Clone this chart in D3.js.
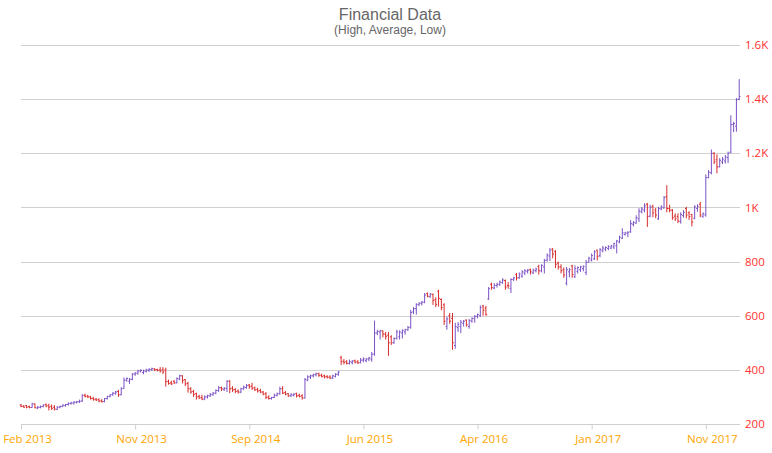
<!DOCTYPE html>
<html>
<head>
<meta charset="utf-8">
<script src="https://cdn.jsdelivr.net/npm/d3@7"></script>
<style>
	body { margin: 0; background: #fff; }
	svg { display: block; }
</style>
</head>
<body>
<div id="container"></div>
<script>
var width = 772, height = 453;
var margin = ({top: 45, right: 32, bottom: 29, left: 21});

// weekly bars, first week starts here
var startDate = '2013-02-15';

var openValues = [270,265,268,264,261,274,259,262,264,272,268,265,262,254,262,265,268,272,275,277,280,282,285,306,303,300,295,292,290,286,
	283,294,302,308,313,320,308,332,362,358,365,384,388,396,390,395,398,401,404,401,400,402,400,358,352,358,352,366,378,364,
	350,330,320,312,302,298,292,300,304,308,314,324,334,328,332,358,332,328,322,318,330,335,344,340,334,328,324,318,312,300,
	294,298,306,312,330,316,312,304,306,312,306,304,296,362,374,378,382,386,380,378,376,374,370,376,384,446,432,430,424,428,
	434,430,426,436,434,440,440,458,536,540,544,532,528,522,500,516,522,536,540,548,558,614,626,640,646,650,682,670,678,660,
	690,660,640,560,600,590,490,556,560,572,584,560,580,590,598,600,636,628,662,716,702,712,716,722,730,712,700,734,752,740,
	746,758,764,770,758,766,782,766,780,806,820,846,838,794,780,770,720,762,784,744,764,770,774,760,798,806,810,842,822,840,
	846,848,850,854,858,872,886,900,904,910,938,942,958,984,990,1012,968,1004,990,958,994,998,1040,996,990,968,966,948,970,996,
	980,974,960,996,1012,966,972,1110,1128,1200,1176,1150,1168,1172,1184,1204,1306,1300,1400];
var highValues = [274,270,270,268,278,276,266,268,272,276,275,272,270,266,268,272,274,280,282,284,285,290,310,312,308,304,300,296,295,292,
	296,304,310,318,322,326,336,372,372,370,388,392,400,402,400,404,406,408,406,404,410,410,408,364,360,362,372,382,380,366,
	356,336,326,316,308,308,306,308,314,318,328,340,338,336,362,362,340,332,328,334,342,348,348,352,338,334,330,322,318,306,
	300,312,316,338,340,322,314,314,314,316,312,310,370,380,382,386,390,390,386,382,380,380,382,388,396,452,440,436,438,436,
	438,436,444,446,444,448,466,582,548,548,546,540,540,528,520,548,546,550,552,562,622,632,646,650,654,684,686,684,682,668,
	696,664,646,596,610,610,574,576,584,584,586,588,594,602,608,638,640,636,706,722,720,722,730,738,734,724,738,744,758,760,
	768,772,772,774,774,778,788,790,810,830,850,850,842,800,790,778,780,776,788,786,782,784,786,806,818,830,842,844,850,858,
	856,860,862,870,880,896,923,910,912,953,950,971,997,1001,1015,1016,1010,1010,998,1002,1008,1042,1082,1010,994,978,978,982,990,1002,
	986,976,1008,1012,1020,982,1122,1138,1214,1204,1196,1182,1186,1194,1206,1340,1316,1404,1474];
var lowValues = [262,260,258,258,260,258,255,258,262,262,250,252,250,252,258,262,264,268,272,272,276,278,282,298,296,290,286,285,280,280,
	280,290,298,304,308,300,306,330,356,348,362,378,382,390,384,390,392,396,396,394,390,385,338,345,344,348,350,362,350,340,
	316,312,300,290,292,288,288,294,300,304,310,318,322,322,318,314,318,314,312,314,326,330,330,326,322,316,314,306,292,290,
	290,296,302,308,310,306,300,300,302,298,298,290,294,358,366,372,376,374,372,368,368,366,366,372,378,418,420,420,420,420,
	424,422,424,428,428,432,430,452,528,512,520,512,452,492,496,512,512,516,530,544,552,606,604,636,638,646,668,666,640,632,
	634,620,566,548,570,474,478,540,536,560,560,552,574,574,590,596,600,600,658,696,698,704,710,718,696,700,684,728,730,736,
	740,750,756,752,754,760,752,760,756,800,802,812,776,770,756,740,712,742,740,740,756,762,764,750,796,800,806,804,816,834,
	838,842,846,846,830,868,883,896,890,906,930,940,946,978,982,928,964,964,960,954,990,996,982,982,954,950,942,940,962,960,
	954,930,956,984,964,962,966,1108,1122,1160,1126,1148,1160,1162,1164,1200,1278,1280,1396];
var closeValues = [265,262,262,261,274,260,262,265,270,266,262,258,255,262,265,270,272,276,278,281,282,284,306,302,300,294,290,288,284,282,
	294,302,308,314,318,308,330,362,368,365,385,388,396,398,396,400,402,404,400,398,396,392,356,350,348,352,368,378,362,348,
	330,318,310,300,296,292,300,304,310,314,324,334,330,332,358,330,326,320,318,330,336,342,338,332,326,322,318,310,298,294,
	298,306,312,330,314,310,304,308,310,304,302,296,364,374,378,382,386,380,376,374,372,370,378,384,392,430,428,424,430,432,
	428,426,436,440,440,444,458,536,542,544,532,524,500,500,516,540,540,545,548,556,612,626,642,646,650,676,672,680,656,642,
	664,630,580,588,580,500,560,568,576,580,566,582,590,598,604,630,620,604,700,704,712,716,724,732,706,710,734,740,740,754,
	762,766,768,762,768,772,766,786,804,824,842,828,790,780,766,750,770,770,752,774,778,780,782,796,812,822,836,818,844,850,
	852,856,858,866,876,890,906,906,908,940,944,962,986,994,1006,966,1000,980,972,996,1002,1036,996,990,962,958,950,974,982,972,
	966,946,1002,1004,972,976,1110,1130,1200,1168,1150,1174,1178,1186,1200,1306,1310,1398,1410];

var yTickValues = [200, 400, 600, 800, 1000, 1200, 1400, 1600];
var xTickDates = ['2013-02-15', '2013-11-29', '2014-09-12', '2015-06-26', '2016-04-08', '2017-01-20', '2017-11-03'];

var titleText = 'Financial Data';
var subtitleText = '(High, Average, Low)';

var upColor = '#7b52c6';
var downColor = '#d92b2b';

var parseDate = d3.timeParse('%Y-%m-%d');
var start = parseDate(startDate);

var bars = closeValues.map(function(c, i) {
	return {
		date: d3.timeDay.offset(start, i * 7),
		open: openValues[i],
		high: highValues[i],
		low: lowValues[i],
		close: c
	};
});

var svg = d3.select('div#container')
	.append('svg')
	.attr('width', width)
	.attr('height', height);

var x = d3.scaleTime()
	.domain([start, parseDate('2018-01-28')])
	.range([margin.left, width - margin.right]);

var y = d3.scaleLinear()
	.domain([200, 1600])
	.range([height - margin.bottom, margin.top]);

// horizontal grid
svg.append('g')
	.selectAll('line')
	.data(yTickValues)
	.join('line')
	.attr('x1', margin.left)
	.attr('x2', width - margin.right)
	.attr('y1', d => Math.round(y(d)) + 0.5)
	.attr('y2', d => Math.round(y(d)) + 0.5)
	.attr('stroke', '#cfcfcf')
	.attr('stroke-width', 1);

// y axis on the right
var yAxis = svg.append('g')
	.attr('transform', 'translate(' + (width - margin.right) + ',0)')
	.call(d3.axisRight(y)
		.tickValues(yTickValues)
		.tickSize(0)
		.tickPadding(5)
		.tickFormat(d => d >= 1000 ? (d / 1000) + 'K' : d));
yAxis.select('.domain').remove();
yAxis.selectAll('text')
	.attr('fill', '#ff3131')
	.attr('font-family', "'Open Sans', 'Noto Sans', sans-serif")
	.attr('font-size', '11.5px');

// x axis
var xAxis = svg.append('g')
	.attr('transform', 'translate(0,' + (Math.round(y(200)) + 0.5) + ')')
	.call(d3.axisBottom(x)
		.tickValues(xTickDates.map(parseDate))
		.tickSize(5)
		.tickPadding(5)
		.tickFormat(d3.timeFormat('%b %Y')));
xAxis.select('.domain').remove();
xAxis.selectAll('.tick line')
	.attr('stroke', '#cfcfcf');
xAxis.selectAll('text')
	.attr('x', 6)
	.attr('fill', '#ffa500')
	.attr('font-family', "'Open Sans', 'Noto Sans', sans-serif")
	.attr('font-size', '11.5px');

// high / low bars with open and close ticks
var w = 1.3;
svg.append('g')
	.selectAll('path')
	.data(bars)
	.join('path')
	.attr('d', d => {
		var cx = x(d.date);
		return 'M' + cx + ',' + y(d.high) + 'V' + y(d.low)
			+ 'M' + (cx - w) + ',' + y(d.open) + 'H' + cx
			+ 'M' + cx + ',' + y(d.close) + 'H' + (cx + w);
	})
	.attr('fill', 'none')
	.attr('stroke', d => d.close >= d.open ? upColor : downColor)
	.attr('stroke-width', 1);

// titles
svg.append('text')
	.text(titleText)
	.attr('x', 390)
	.attr('y', 20)
	.attr('text-anchor', 'middle')
	.attr('fill', '#666')
	.attr('font-family', "'Liberation Sans', Arial, sans-serif")
	.attr('font-size', '16px');

svg.append('text')
	.text(subtitleText)
	.attr('x', 390)
	.attr('y', 34)
	.attr('text-anchor', 'middle')
	.attr('fill', '#666')
	.attr('font-family', "'Liberation Sans', Arial, sans-serif")
	.attr('font-size', '12px');
</script>
</body>
</html>
